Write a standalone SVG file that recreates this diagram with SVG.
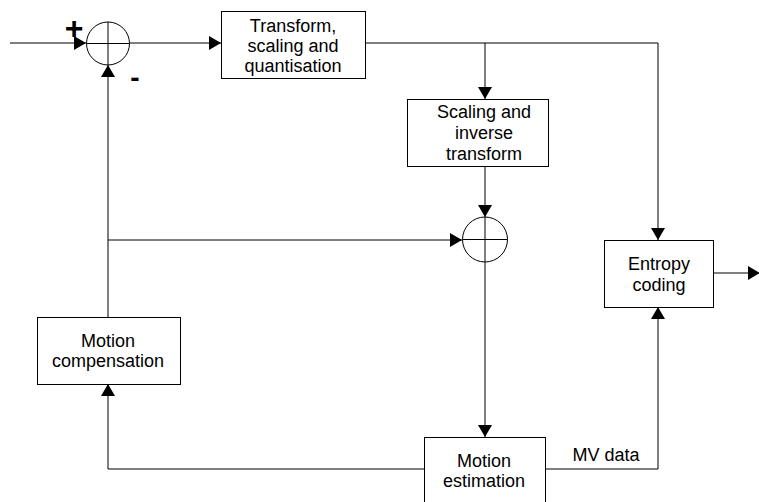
<svg xmlns="http://www.w3.org/2000/svg" width="759" height="502" viewBox="0 0 759 502">
<style>
.box{fill:#fff;stroke:#000;stroke-width:1}
.ln{fill:none;stroke:#000;stroke-width:1}
.sum{fill:#fff;stroke:#000;stroke-width:1}
.t{font-family:"Liberation Sans",Arial,sans-serif;font-size:18px;fill:#000;text-anchor:middle}
.sign{font-family:"Liberation Sans",Arial,sans-serif;font-weight:bold;fill:#000;text-anchor:middle}
</style>
<defs>
<marker id="ah" viewBox="0 0 12 14" refX="12" refY="7" markerWidth="12" markerHeight="14" markerUnits="userSpaceOnUse" orient="auto">
<path d="M0,0 L12,7 L0,14 Z" fill="#000"/>
</marker>
</defs>
<rect width="759" height="502" fill="#fff"/>
<g id="connectors">
<path class="ln" d="M10,43 L86,43" marker-end="url(#ah)"/>
<path class="ln" d="M130,43 L221,43" marker-end="url(#ah)"/>
<path class="ln" d="M366,43 L658,43 L658,240" marker-end="url(#ah)"/>
<path class="ln" d="M485,43 L485,99" marker-end="url(#ah)"/>
<path class="ln" d="M485,166 L485,217" marker-end="url(#ah)"/>
<path class="ln" d="M485,262 L485,437" marker-end="url(#ah)"/>
<path class="ln" d="M108,317 L108,65" marker-end="url(#ah)"/>
<path class="ln" d="M108,240 L462,240" marker-end="url(#ah)"/>
<path class="ln" d="M424,469 L108,469 L108,384" marker-end="url(#ah)"/>
<path class="ln" d="M546,469 L658,469 L658,307" marker-end="url(#ah)"/>
<path class="ln" d="M714,273 L760,273" marker-end="url(#ah)"/>
<text class="t" x="606" y="461">MV data</text>
</g>
<g id="sum1">
<circle class="sum" cx="108" cy="43.5" r="21.5"/>
<path class="ln" d="M86.5,43.5 H129.5 M108,22 V65"/>
<text class="sign" x="74" y="39" font-size="32">+</text>
<text class="sign" x="135" y="87" font-size="28">-</text>
</g>
<g id="transform">
<rect class="box" x="221.5" y="11.5" width="144" height="67"/>
<text class="t" x="293" y="32">Transform,</text>
<text class="t" x="293" y="52">scaling and</text>
<text class="t" x="293" y="72">quantisation</text>
</g>
<g id="inverse">
<rect class="box" x="407.5" y="99.5" width="141" height="67"/>
<text class="t" x="484" y="118">Scaling and</text>
<text class="t" x="484" y="139">inverse</text>
<text class="t" x="484" y="160">transform</text>
</g>
<g id="sum2">
<circle class="sum" cx="485" cy="239.5" r="22.5"/>
<path class="ln" d="M462.5,239.5 H507.5 M485,217 V262"/>
</g>
<g id="entropy">
<rect class="box" x="604.5" y="240.5" width="109" height="67"/>
<text class="t" x="659" y="270">Entropy</text>
<text class="t" x="659" y="291">coding</text>
</g>
<g id="mc">
<rect class="box" x="37.5" y="317.5" width="143" height="67"/>
<text class="t" x="108" y="347">Motion</text>
<text class="t" x="108" y="367">compensation</text>
</g>
<g id="me">
<rect class="box" x="424.5" y="437.5" width="121" height="67"/>
<text class="t" x="484" y="467">Motion</text>
<text class="t" x="484" y="487">estimation</text>
</g>
</svg>
